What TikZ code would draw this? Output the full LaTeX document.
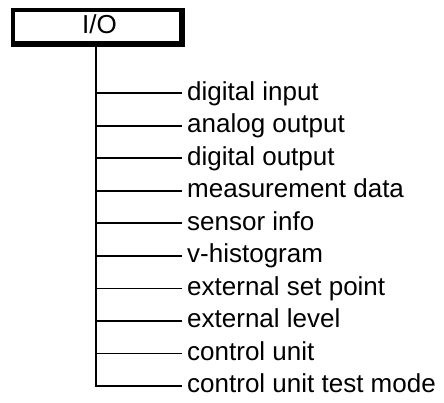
\documentclass[tikz,border=0pt]{standalone}
\usepackage{fontspec}
\setmainfont{Liberation Sans}
\begin{document}
\begin{tikzpicture}[x=1pt,y=-1pt,
  lbl/.style={anchor=base west,inner xsep=5pt,inner ysep=0pt,font=\fontsize{26}{30}\selectfont},
  trunk/.style={line width=2pt},
  branch/.style={line width=1.6pt}]
\useasboundingbox (0,0) rectangle (444,403);
% frame of the I/O box (thin top/left, heavy right/bottom)
\fill[black] (11,8.5) rectangle (184.7,46.7);
\fill[white] (15,12) rectangle (178.7,40.7);
\node[anchor=base,inner sep=0pt,font=\fontsize{26}{30}\selectfont] (io) at (99.5,33.3) {I/O};
\coordinate (top) at (96,46.7);
\coordinate (bot) at (96,387);
\draw[trunk] (top) -- (bot);
\foreach \i/\t in {0/digital input,1/analog output,2/digital output,3/measurement data,4/sensor info,5/v-histogram,6/external set point,7/external level,8/control unit,9/control unit test mode}{
  \coordinate (c\i) at (96,{93.3+32.5*\i});
  \node[lbl] (t\i) at (182,{93.3+32.5*\i+6.8}) {\t};
  \draw[branch] (c\i) -- (c\i -| t\i.west);
}
\end{tikzpicture}
\end{document}
